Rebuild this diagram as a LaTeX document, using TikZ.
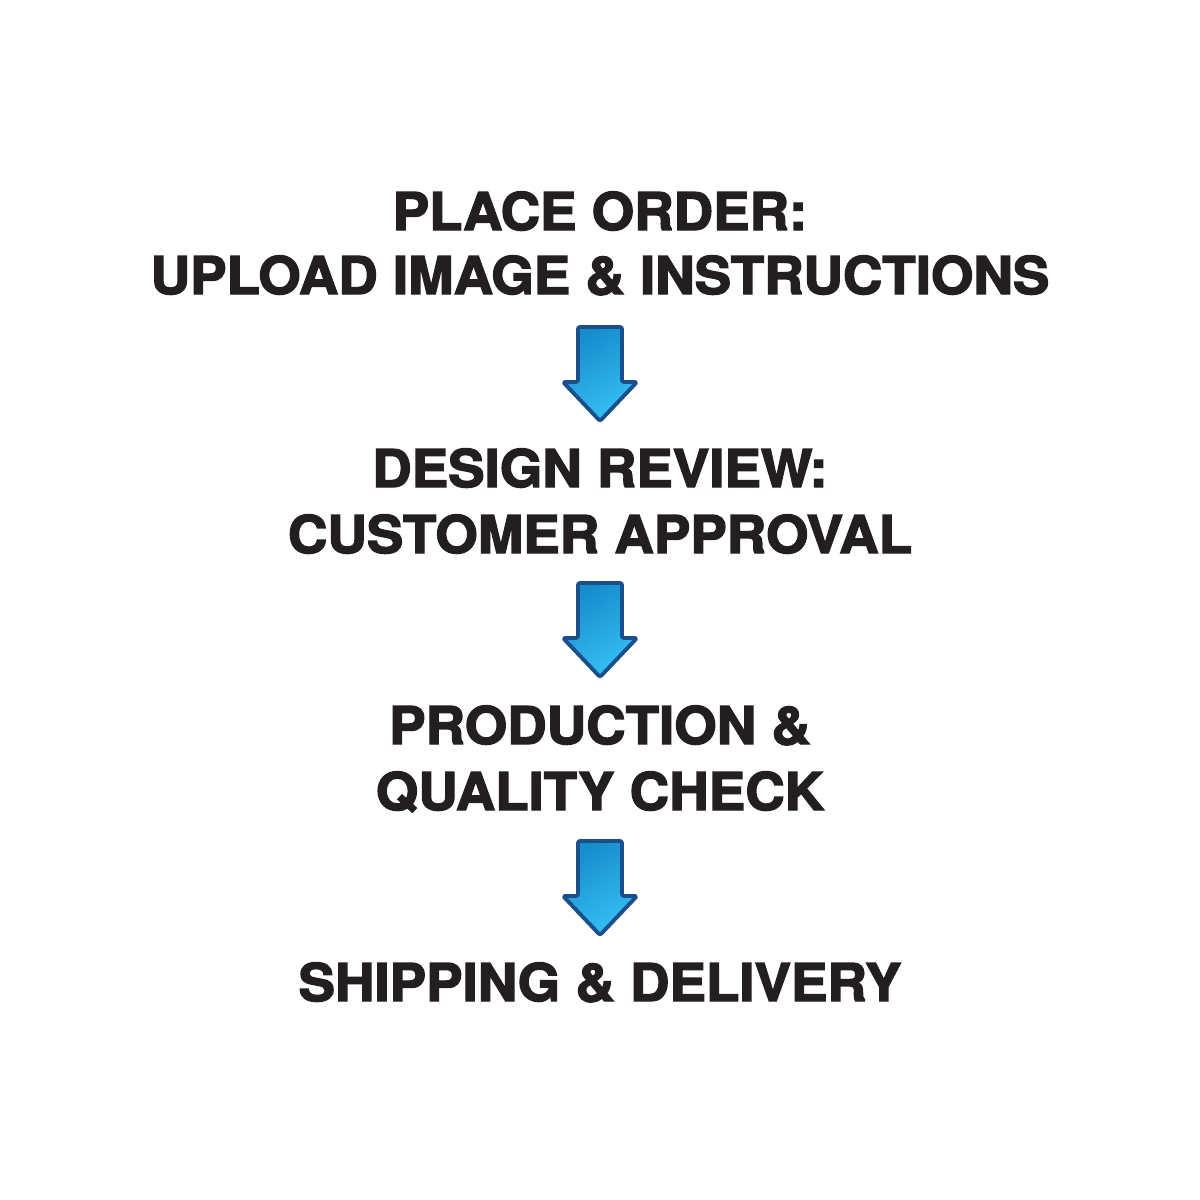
\documentclass[tikz,border=0pt]{standalone}
\usepackage{fontspec}
\setmainfont{TeX Gyre Heros}[BoldFeatures={FakeBold=2.6,FakeStretch=1.05}]
\definecolor{ink}{HTML}{231F20}
\definecolor{arrowline}{HTML}{1B4F8C}
\definecolor{arrowdark}{HTML}{168CCB}
\definecolor{arrowlight}{HTML}{36C0F4}
\begin{document}
\begin{tikzpicture}[x=0.01cm,y=-0.01cm,
  steptext/.style={anchor=base,inner sep=0pt,text=ink,font=\fontsize{14.8pt}{16pt}\selectfont\bfseries},
  blockarrow/.style={draw=arrowline,line width=1.1pt,rounded corners=0.6pt,line join=round,
    left color=arrowdark,right color=arrowlight,shading angle=30}]
\useasboundingbox[fill=white] (0,0) rectangle (1200,1200);
\node[steptext] (t1a) at (600,230) {PLACE ORDER:};
\node[steptext] (t1b) at (600,294) {UPLOAD IMAGE \& INSTRUCTIONS};
\node[steptext] (t2a) at (600,487) {DESIGN REVIEW:};
\node[steptext] (t2b) at (600,553) {CUSTOMER APPROVAL};
\node[steptext] (t3a) at (600,744) {PRODUCTION \&};
\node[steptext] (t3b) at (600,810) {QUALITY CHECK};
\node[steptext] (t4) at (600,1001) {SHIPPING \& DELIVERY};
\foreach \yy in {327,583,841}{
  \path[blockarrow] (578,\yy) -- (622,\yy) -- (622,\yy+55) -- (637,\yy+55) -- (600,\yy+94)
    -- (563,\yy+55) -- (578,\yy+55) -- cycle;
}
\end{tikzpicture}
\end{document}
